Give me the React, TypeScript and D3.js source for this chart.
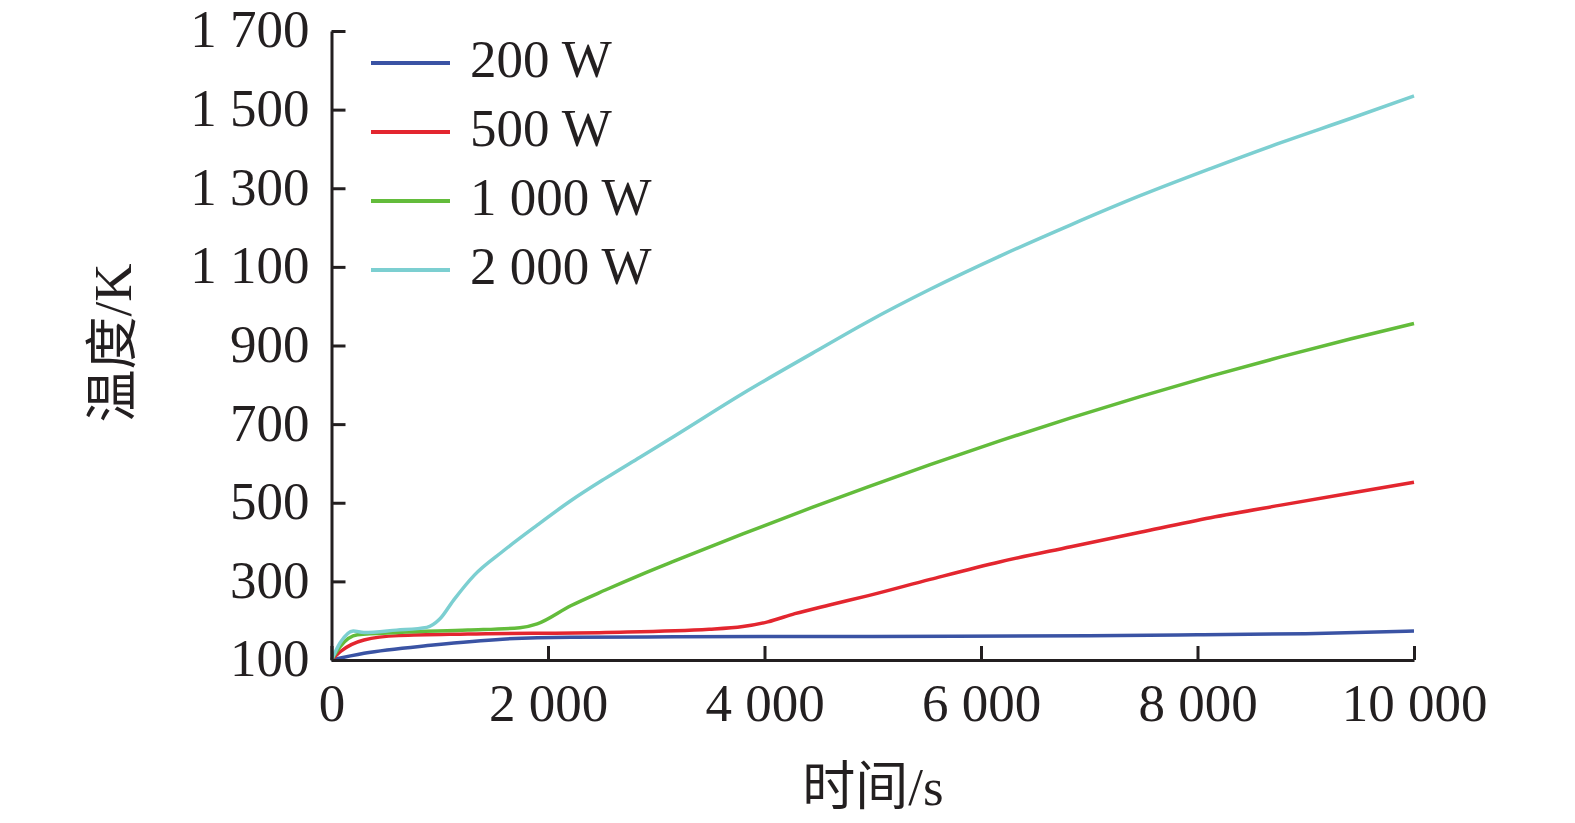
import React, { useEffect, useRef } from "react";
import * as d3 from "d3";

// values
const xTicks = [0, 2000, 4000, 6000, 8000, 10000];
const yTicks = [100, 300, 500, 700, 900, 1100, 1300, 1500, 1700];

const time200 = [0, 300, 940, 1580, 2210, 3170, 5000, 7000, 8000, 9000, 10000];
const temp200 = [100, 117, 138, 153, 158, 159, 160, 162, 164, 167, 174];

const time500 = [0, 80, 300, 620, 1260, 2530, 3490, 3800, 4030, 4280, 4600, 4950, 5530, 6180, 6830, 7470, 8120, 8770, 9420, 10000];
const temp500 = [100, 121, 151, 162, 166, 170, 178, 185, 197, 218, 240, 263, 305, 350, 388, 425, 462, 494, 525, 552];

const time1000 = [0, 80, 240, 620, 1260, 1740, 1900, 2210, 2530, 2850, 3170, 3800, 4440, 4950, 5530, 6180, 6830, 7470, 8120, 8770, 9420, 10000];
const temp1000 = [100, 134, 164, 170, 176, 182, 192, 238, 278, 316, 352, 421, 488, 540, 597, 658, 716, 770, 822, 871, 917, 956];

const time2000 = [0, 80, 200, 300, 600, 880, 1000, 1130, 1320, 1580, 1900, 2210, 2530, 2850, 3170, 3800, 4440, 4950, 5530, 6180, 6830, 7470, 8120, 8770, 9420, 10000];
const temp2000 = [100, 144, 174, 170, 176, 183, 204, 253, 316, 376, 443, 505, 562, 616, 670, 778, 880, 960, 1043, 1128, 1207, 1281, 1350, 1416, 1478, 1535];

const seriesNames = ["200 W", "500 W", "1 000 W", "2 000 W"];
const seriesColors = ["#3a53a4", "#e3262f", "#63bc3b", "#7ccfd1"];

const FONT = '"Liberation Serif", "Times New Roman", "Noto Sans CJK SC", serif';

export default function App() {
  const svgRef = useRef(null);

  useEffect(() => {
    document.body.style.margin = "0";
    const svg = d3.select(svgRef.current);
    svg.selectAll("*").remove();

    const x = d3.scaleLinear().domain([0, 10000]).range([331.5, 1414]);
    const y = d3.scaleLinear().domain([100, 1700]).range([660, 31]);
    const fmt = (d) => d3.format(",")(d).replace(/,/g, " ");

    const series = [
      { t: time200, v: temp200 },
      { t: time500, v: temp500 },
      { t: time1000, v: temp1000 },
      { t: time2000, v: temp2000 },
    ];

    const line = d3
      .line()
      .x((d) => x(d[0]))
      .y((d) => y(d[1]))
      .curve(d3.curveMonotoneX);

    // curves first, axes on top
    series.forEach((s, i) => {
      svg
        .append("path")
        .datum(s.t.map((t, j) => [t, s.v[j]]))
        .attr("d", line)
        .style("fill", "none")
        .style("stroke", seriesColors[i])
        .style("stroke-width", 3.5);
    });

    // x axis
    const gx = svg
      .append("g")
      .attr("transform", `translate(0,${y(100)})`)
      .call(
        d3
          .axisBottom(x)
          .tickValues(xTicks)
          .tickSizeInner(-14)
          .tickSizeOuter(0)
          .tickPadding(23)
          .tickFormat(fmt),
      );

    // y axis
    const gy = svg
      .append("g")
      .attr("transform", `translate(${x(0)},0)`)
      .call(
        d3
          .axisLeft(y)
          .tickValues(yTicks)
          .tickSizeInner(-14)
          .tickSizeOuter(0)
          .tickPadding(22)
          .tickFormat(fmt),
      );
    gy.selectAll("text").attr("dy", "0.3em");

    [gx, gy].forEach((g) => {
      g.attr("font-family", FONT).attr("font-size", 53);
      g.select(".domain").style("stroke", "#231f20").style("stroke-width", 3);
      g.selectAll(".tick line").style("stroke", "#231f20").style("stroke-width", 3);
      g.selectAll("text").style("fill", "#231f20");
    });

    // axis titles
    svg
      .append("text")
      .attr("x", 873)
      .attr("y", 805)
      .attr("text-anchor", "middle")
      .attr("font-family", FONT)
      .attr("font-size", 53)
      .style("fill", "#231f20")
      .text("时间/s");

    svg
      .append("text")
      .attr("transform", `translate(131,343) rotate(-90)`)
      .attr("text-anchor", "middle")
      .attr("font-family", FONT)
      .attr("font-size", 53)
      .style("fill", "#231f20")
      .text("温度/K");

    // legend
    const legend = svg.append("g").attr("transform", "translate(371,63)");
    seriesNames.forEach((name, i) => {
      legend
        .append("line")
        .attr("x1", 0)
        .attr("x2", 79)
        .attr("y1", i * 69)
        .attr("y2", i * 69)
        .style("stroke", seriesColors[i])
        .style("stroke-width", 4);
      legend
        .append("text")
        .attr("x", 99)
        .attr("y", i * 69 + 14)
        .attr("font-family", FONT)
        .attr("font-size", 53)
        .style("fill", "#231f20")
        .text(name);
    });
  }, []);

  return <svg ref={svgRef} width={1575} height={823} style={{ display: "block", background: "#fff" }} />;
}
